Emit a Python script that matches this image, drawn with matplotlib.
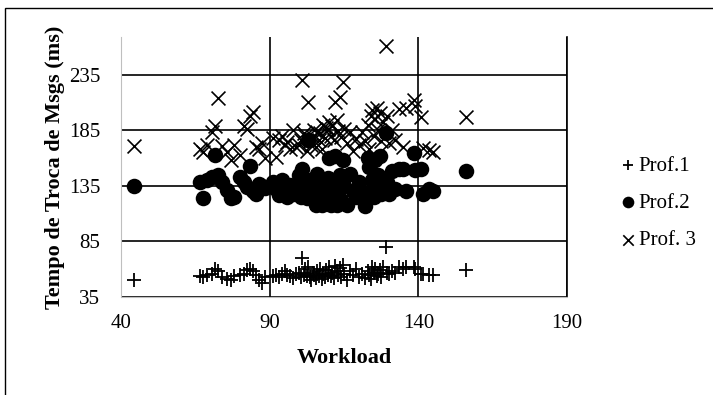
import matplotlib
matplotlib.use("Agg")
import matplotlib.pyplot as plt
from matplotlib.patches import Rectangle

plt.rcParams['font.family'] = ['Liberation Serif', 'DejaVu Serif']

# workload values shared by the three profiles
workload = [44.5, 66.5, 67.5, 69, 70.5, 71.5, 72.5, 74, 75.5, 77, 78, 80, 81.5, 82.5, 83.5,
            84.5, 85.5, 86.5, 87.5, 88.5,
            91, 92, 93, 94, 95, 96, 97, 98, 99, 100, 100.5, 101, 101.5, 102, 102.5, 103,
            103.5, 104, 104.5, 105, 105.5, 106, 106.5, 107, 107.5, 108, 108.5, 109, 109.5,
            110, 110.5, 111, 111.5, 112, 112.5, 113, 113.5, 114, 114.5, 115, 116, 117, 118,
            119, 120, 121, 122, 123, 123.5, 124, 124.5, 125, 125.5, 126, 126.5, 127, 127.5,
            128, 129, 129.5, 130, 131, 132, 133.5, 135, 136,
            138.5, 139, 141, 141.5, 143.5, 145, 156]

prof1 = [50, 54, 53, 55, 56, 60, 58, 53, 51, 50, 54, 55, 56, 59, 60,
         58, 55, 50, 48, 53,
         54, 55, 53, 56, 58, 55, 54, 52, 56, 57, 53, 70, 55, 60, 54, 62,
         53, 50, 57, 55, 52, 58, 54, 60, 51, 56, 53, 59, 55,
         62, 54, 57, 52, 63, 58, 55, 61, 53, 64, 56, 50, 58, 55,
         60, 53, 56, 52, 58, 55, 51, 62, 57, 60, 54, 56, 59, 53,
         62, 80, 57, 56, 58, 57, 62, 60, 62,
         62, 60, 56, 56, 55, 55, 59]

prof2 = [135, 138, 124, 140, 143, 163, 145, 138, 131, 124, 125, 143, 138, 134, 153,
         130, 128, 137, 135, 133,
         138, 132, 127, 140, 130, 125, 136, 128, 135, 145, 125, 150, 132, 141, 124, 176,
         130, 138, 128, 134, 118, 146, 126, 140, 118, 132, 138, 125, 142,
         160, 118, 135, 128, 162, 118, 130, 145, 122, 158, 135, 118, 146, 130,
         125, 138, 128, 117, 160, 152, 130, 140, 125, 158, 133, 145, 162, 128,
         140, 182, 138, 128, 148, 132, 150, 150, 130,
         164, 149, 150, 128, 132, 130, 148]

prof3 = [171, 168, 165, 172, 183, 189, 214, 171, 165, 158, 172, 163, 189, 186, 198,
         201, 170, 168, 173, 160,
         178, 161, 176, 180, 172, 174, 168, 185, 170, 172, 176, 230, 182, 180, 166, 210,
         175, 172, 179, 185, 170, 183, 176, 182, 168, 190, 178, 187, 186,
         192, 180, 189, 176, 210, 194, 184, 215, 179, 228, 186, 173, 183, 166,
         177, 172, 183, 175, 190, 168, 198, 203, 180, 195, 205, 185, 200, 175,
         192, 261, 198, 173, 185, 176, 204, 170, 205,
         212, 207, 197, 169, 167, 165, 197]

x_ticks = [40, 90, 140, 190]
y_ticks = [35, 85, 135, 185, 235]
labels = ['Prof.1', 'Prof.2', 'Prof. 3']

fig = plt.figure(figsize=(7.13, 3.95), dpi=100)
ax = fig.add_axes([0.1697, 0.2481, 0.6255, 0.659])

ax.scatter(workload, prof1, marker='+', s=95, color='black', linewidths=1.3, label=labels[0], zorder=3)
ax.scatter(workload, prof2, marker='o', s=125, color='black', linewidths=0, label=labels[1], zorder=4)
ax.scatter(workload, prof3, marker='x', s=100, color='black', linewidths=1.2, label=labels[2], zorder=5)

ax.set_xlim(40, 190)
ax.set_ylim(35, 269)
ax.set_xticks(x_ticks)
ax.set_yticks(y_ticks)
ax.grid(True, color='black', linewidth=1.2, zorder=0)
ax.set_axisbelow(True)
ax.tick_params(length=0, labelsize=15, pad=12)
ax.tick_params(axis='y', pad=15)

ax.spines['top'].set_visible(False)
ax.spines['right'].set_color('black')
ax.spines['right'].set_linewidth(1.2)
ax.spines['left'].set_color('#bfbfbf')
ax.spines['bottom'].set_color('#bfbfbf')

ax.set_xlabel('Workload', fontsize=16, fontweight='bold', labelpad=11)
ax.set_ylabel('Tempo de Troca de Msgs (ms)', fontsize=16, fontweight='bold', labelpad=3)

leg = ax.legend(loc='center left', bbox_to_anchor=(1.095, 0.361), frameon=False,
                fontsize=15, handletextpad=0.0, labelspacing=0.85, borderaxespad=0,
                handlelength=1.0, markerscale=0.75)

fig.patches.append(Rectangle((5 / 713, -0.02), 1.02, 1 - 8 / 395 + 0.02,
                             transform=fig.transFigure, fill=False,
                             edgecolor='black', linewidth=1.0))

fig.savefig('out.png', dpi=100)
